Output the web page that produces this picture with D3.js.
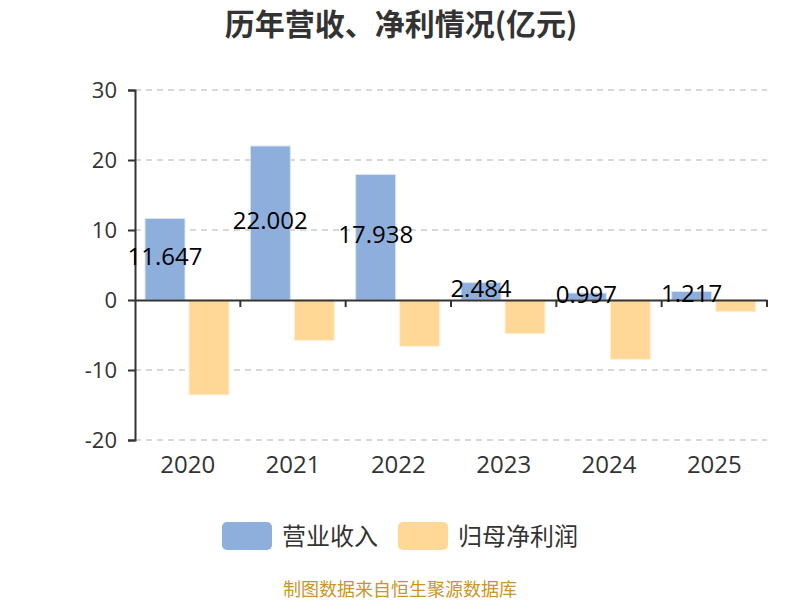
<!DOCTYPE html>
<html><head><meta charset="utf-8">
<script src="https://cdn.jsdelivr.net/npm/d3@7"></script>
<style>body{margin:0;background:#fff}svg{display:block}</style>
</head><body>
<svg id="c" width="800" height="600"></svg>
<script>
const categories = ["2020","2021","2022","2023","2024","2025"];
const revenue = [11.647, 22.002, 17.938, 2.484, 0.997, 1.217];
const netProfit = [-13.56, -5.76, -6.62, -4.81, -8.48, -1.67];
const yTicks = [-20, -10, 0, 10, 20, 30];
const seriesNames = ["营业收入", "归母净利润"];
const colors = ["#8eaedb", "#ffd897"];

const font = "'Noto Sans CJK SC','Microsoft YaHei',sans-serif";
const numFont = "'Open Sans','Segoe UI',sans-serif";
const svg = d3.select("#c");
const L = 135, R = 767, T = 90, B = 440;
const x = d3.scaleBand().domain(categories).range([L, R]);
const y = d3.scaleLinear().domain([-20, 30]).range([B, T]);

// title
svg.append("text").attr("x", 401).attr("y", 35).attr("text-anchor", "middle")
  .attr("font-family", font).attr("font-size", 30).attr("font-weight", "bold")
  .attr("fill", "#333").text("历年营收、净利情况(亿元)");

// grid
svg.append("g").selectAll("line").data(yTicks.filter(d => d !== 0)).join("line")
  .attr("x1", L).attr("x2", R).attr("y1", d => y(d)).attr("y2", d => y(d))
  .attr("stroke", "#ccc").attr("stroke-width", 1.5).attr("stroke-dasharray", "6,5");

// y axis
const yAxis = svg.append("g").attr("transform", `translate(${L},0)`)
  .call(d3.axisLeft(y).tickValues(yTicks).tickSize(7).tickPadding(11).tickFormat(d => String(d)));
yAxis.select(".domain").attr("stroke", "#333").attr("stroke-width", 2);
yAxis.selectAll(".tick line").attr("stroke", "#333").attr("stroke-width", 2);
yAxis.selectAll(".tick text").attr("font-family", numFont).attr("font-size", 22).attr("fill", "#333");

// bars
const bw = 40, gap = 4, off = 10;
const gBars = svg.append("g");
gBars.selectAll("rect.rev").data(categories).join("rect").attr("class", "rev")
  .attr("x", d => x(d) + off).attr("width", bw)
  .attr("y", (d, i) => y(Math.max(0, revenue[i])))
  .attr("height", (d, i) => Math.abs(y(revenue[i]) - y(0)))
  .attr("fill", colors[0]).attr("stroke", "#dbe5f4").attr("stroke-width", 1);
gBars.selectAll("rect.np").data(categories).join("rect").attr("class", "np")
  .attr("x", d => x(d) + off + bw + gap).attr("width", bw)
  .attr("y", (d, i) => y(Math.max(0, netProfit[i])))
  .attr("height", (d, i) => Math.abs(y(netProfit[i]) - y(0)))
  .attr("fill", colors[1]).attr("stroke", "#fff0d6").attr("stroke-width", 1);

// x axis
const xAxis = svg.append("g").attr("transform", `translate(0,${y(0)})`)
  .call(d3.axisBottom(x).tickSize(0).tickFormat(""));
xAxis.select(".domain").attr("stroke", "#333").attr("stroke-width", 2);
const bounds = categories.map(d => x(d)).concat([R]);
xAxis.selectAll("line.bt").data(bounds.slice(1)).join("line").attr("class", "bt")
  .attr("x1", d => d).attr("x2", d => d).attr("y1", 0).attr("y2", 7)
  .attr("stroke", "#333").attr("stroke-width", 2);

// year labels
svg.append("g").selectAll("text").data(categories).join("text")
  .attr("x", d => x(d) + x.bandwidth() / 2).attr("y", 473).attr("text-anchor", "middle")
  .attr("font-family", numFont).attr("font-size", 24).attr("fill", "#333").text(d => d);

// value labels (middle of revenue bars)
svg.append("g").selectAll("text").data(categories).join("text")
  .attr("x", d => x(d) + off + bw / 2)
  .attr("y", (d, i) => (y(revenue[i]) + y(0)) / 2 + 6).attr("text-anchor", "middle")
  .attr("font-family", numFont).attr("font-size", 24).attr("fill", "#000")
  .text((d, i) => revenue[i].toFixed(3));

// legend
const lg = svg.append("g");
const legendX = [222, 398];
seriesNames.forEach((n, i) => {
  lg.append("rect").attr("x", legendX[i]).attr("y", 522).attr("width", 50).attr("height", 28)
    .attr("rx", 5).attr("fill", colors[i]);
  lg.append("text").attr("x", legendX[i] + 60).attr("y", 545)
    .attr("font-family", font).attr("font-size", 24).attr("fill", "#333").text(n);
});

// footer
svg.append("text").attr("x", 400).attr("y", 596).attr("text-anchor", "middle")
  .attr("font-family", font).attr("font-size", 18).attr("fill", "#c8962a")
  .text("制图数据来自恒生聚源数据库");
</script>
</body></html>
